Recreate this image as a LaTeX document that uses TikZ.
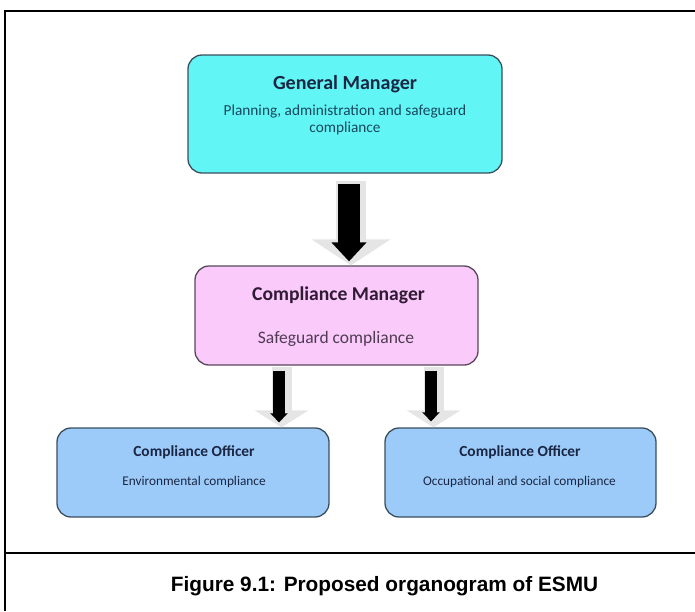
\documentclass[tikz,border=0pt]{standalone}
\usepackage{fontspec}
\setmainfont{Carlito}
\newfontfamily\captionfont{Liberation Sans}
\usetikzlibrary{positioning,arrows.meta}

\definecolor{gmfill}{RGB}{98,245,246}
\definecolor{cmfill}{RGB}{250,202,250}
\definecolor{cofill}{RGB}{156,203,250}
\definecolor{boxline}{RGB}{58,78,92}
\definecolor{cmline}{RGB}{88,70,90}
\definecolor{navy}{RGB}{26,38,66}
\definecolor{teal}{RGB}{24,72,92}
\definecolor{plum}{RGB}{48,26,52}

\tikzset{
  post/.style={draw=boxline, line width=1.3pt, rounded corners=14pt, inner sep=0pt},
  ttl/.style={anchor=base, inner sep=0pt, font=\bfseries\fontsize{#1}{#1}\selectfont},
  sub/.style={anchor=base, inner sep=0pt, align=center, font=\fontsize{#1}{16.5}\selectfont},
  big shade/.style={draw=gray!20, line width=30pt, -{Triangle[width=78pt,length=26pt]}},
  big front/.style={draw=black, line width=22pt, -{Triangle[width=34pt,length=19pt]}},
  small shade/.style={draw=gray!20, line width=20pt, -{Triangle[width=53pt,length=17pt]}},
  small front/.style={draw=black, line width=12pt, -{Triangle[width=17pt,length=9pt]}},
}

\begin{document}
\begin{tikzpicture}[x=1pt, y=-1pt]
  \useasboundingbox (0,0) rectangle (695,611);

  % frame and caption rule
  \draw[line width=2pt] (5,611) -- (5,11) -- (695,11);
  \draw[line width=2pt] (5,553) -- (695,553);

  % boxes
  \node[post, fill=gmfill, minimum width=314pt, minimum height=118pt] (gm) at (345,114) {};
  \node[post, draw=cmline, fill=cmfill, minimum width=283pt, minimum height=99pt] (cm) at (336.5,315.5) {};
  \node[post, fill=cofill, minimum width=272pt, minimum height=89pt] (co1) at (193,472.5) {};
  \node[post, fill=cofill, minimum width=271pt, minimum height=89pt] (co2) at (520.5,472.5) {};

  % texts
  \node[ttl=20, text=navy] (gmt) at (345,89) {General Manager};
  \node[sub=15.3, text=teal] (gms) at (345,132) {Planning, administration and safeguard\\compliance};
  \node[ttl=19.6, text=plum] (cmt) at (338.5,300) {Compliance Manager};
  \node[sub=17.5, text=plum!85] (cms) at (336,343) {Safeguard compliance};
  \node[ttl=15.4, text=navy] (co1t) at (194,456) {Compliance Officer};
  \node[sub=13.3, text=navy] (co1s) at (194,485) {Environmental compliance};
  \node[ttl=15.4, text=navy] (co2t) at (520,456) {Compliance Officer};
  \node[sub=13.3, text=navy] (co2s) at (519.5,485) {Occupational and social compliance};

  % arrows
  \draw[big shade, shorten <=7pt] ([xshift=6pt]gm.south) -- ([xshift=6pt]gm.south |- cm.north);
  \draw[big front, shorten <=10pt, shorten >=4pt] ([xshift=4pt]gm.south) -- ([xshift=4pt]gm.south |- cm.north);
  \draw[small shade, shorten <=1pt] ([xshift=-55pt]cm.south) -- ([xshift=-55pt]cm.south |- co1.north);
  \draw[small front, shorten <=5pt, shorten >=5pt] ([xshift=-57.5pt]cm.south) -- ([xshift=-57.5pt]cm.south |- co1.north);
  \draw[small shade, shorten <=1pt] ([xshift=97pt]cm.south) -- ([xshift=97pt]cm.south |- co2.north);
  \draw[small front, shorten <=5pt, shorten >=6pt] ([xshift=94.5pt]cm.south) -- ([xshift=94.5pt]cm.south |- co2.north);

  % caption
  \node[anchor=base, inner sep=0pt, font=\captionfont\bfseries\fontsize{20.8}{24}\selectfont] (cap) at (384.5,591) {Figure 9.1: Proposed organogram of ESMU};
\end{tikzpicture}
\end{document}
